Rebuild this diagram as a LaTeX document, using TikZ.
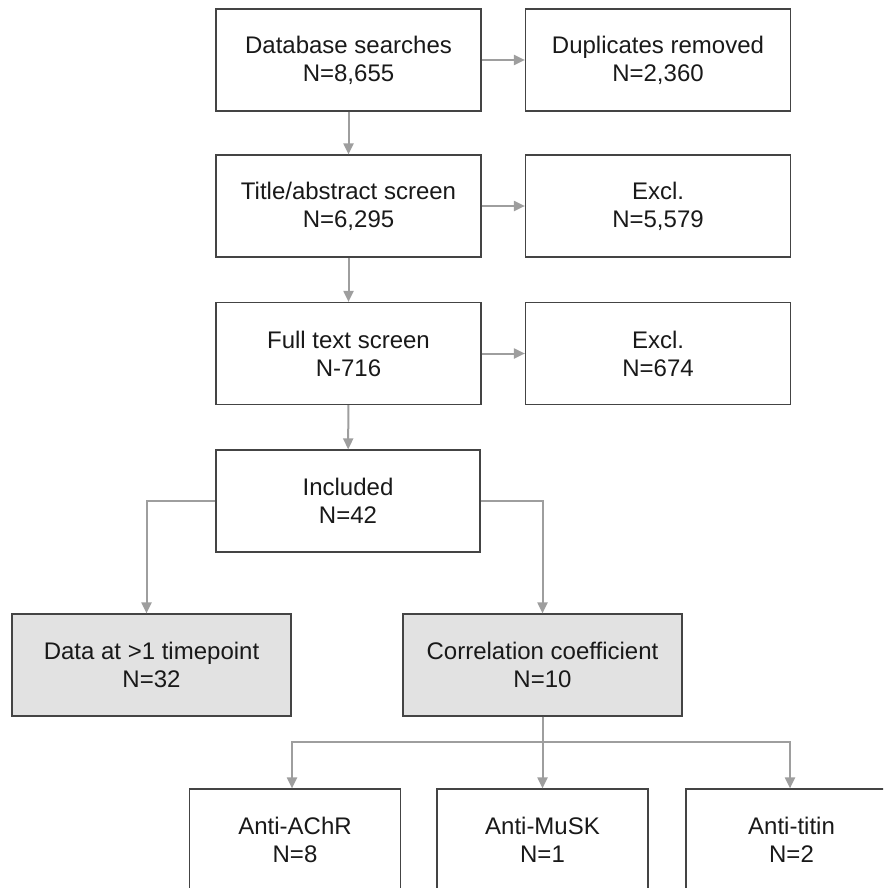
\documentclass[tikz,border=0pt]{standalone}
\usepackage{fontspec}
\setmainfont{Liberation Sans}
\usetikzlibrary{arrows.meta}
\definecolor{boxline}{HTML}{444444}
\definecolor{conn}{HTML}{9E9E9E}
\definecolor{boxfill}{HTML}{E2E2E2}
\begin{document}
\begin{tikzpicture}[x=1pt,y=-1pt,
  box/.style={draw=boxline, line width=1.2pt, minimum width=265pt, minimum height=102pt,
    inner sep=0pt, align=center, font=\fontsize{24}{28}\selectfont, text={black!90}},
  graybox/.style={box, fill=boxfill, minimum width=279pt},
  smallbox/.style={box, minimum width=211pt},
  link/.style={draw=conn, line width=2pt, -{Triangle[length=11pt,width=10pt]}}]
\useasboundingbox (0,0) rectangle (883,888);
\clip (0,0) rectangle (883,888);
\node[box] (db) at (348.5,60) {Database searches\\N=8,655};
\node[box] (dup) at (658,60) {Duplicates removed\\N=2,360};
\node[box] (ta) at (348.5,206) {Title/abstract screen\\N=6,295};
\node[box] (ex1) at (658,206) {Excl.\\N=5,579};
\node[box] (ft) at (348.5,353.5) {Full text screen\\N-716};
\node[box] (ex2) at (658,353.5) {Excl.\\N=674};
\node[box, minimum width=264pt] (inc) at (348,501) {Included\\N=42};
\node[graybox] (data) at (151.5,665) {Data at \textgreater1 timepoint\\N=32};
\node[graybox] (corr) at (542.5,665) {Correlation coefficient\\N=10};
\node[smallbox] (achr) at (295,840) {Anti-AChR\\N=8};
\node[smallbox] (musk) at (542.5,840) {Anti-MuSK\\N=1};
\node[smallbox] (titin) at (791.5,840) {Anti-titin\\N=2};
\coordinate (dataTop) at ([xshift=-5pt]data.north);
\coordinate (split) at (542.5,742);
\draw[link] (db) -- (dup);
\draw[link] (ta) -- (ex1);
\draw[link] (ft) -- (ex2);
\draw[link] (db) -- (ta);
\draw[link] (ta) -- (ft);
\draw[link] (ft) -- (inc);
\draw[link] (inc.west) -| (dataTop);
\draw[link] (inc.east) -| (corr.north);
\draw[link] (corr.south) -- (split) -| ([xshift=-3pt]achr.north);
\draw[link] (corr.south) -- (musk.north);
\draw[link] (split) -| ([xshift=-1.5pt]titin.north);
\end{tikzpicture}
\end{document}
